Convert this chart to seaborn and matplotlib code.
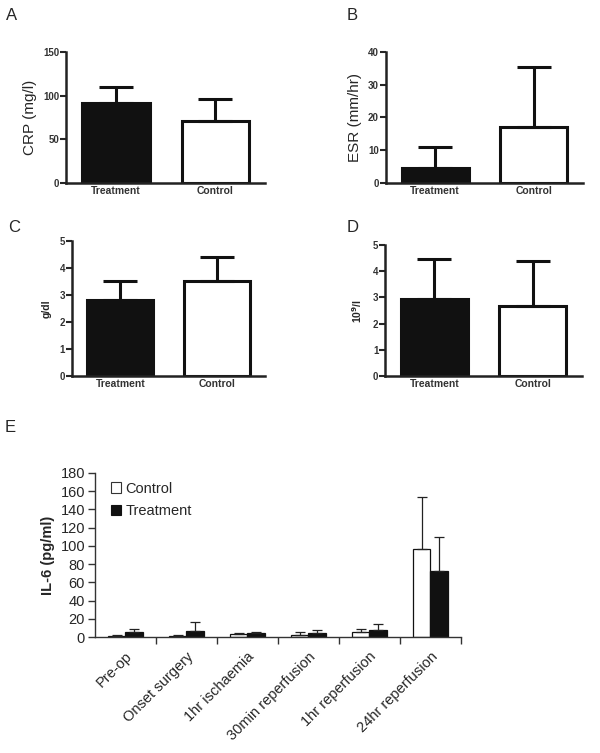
import numpy as np
import pandas as pd
import matplotlib
matplotlib.use("Agg")
import matplotlib.pyplot as plt
from matplotlib.patches import Patch
import seaborn as sns

# Panels A-D: Treatment vs Control, mean and SD (upper bar only)
groups = ["Treatment", "Control"]
crp_mean = [91, 71]
crp_sd = [19, 25]
esr_mean = [4.5, 17]
esr_sd = [6.5, 18.5]
alb_mean = [2.8, 3.52]
alb_sd = [0.72, 0.9]
wcc_mean = [2.92, 2.68]
wcc_sd = [1.55, 1.7]

# Panel E: IL-6 time course
timepoints = ["Pre-op", "Onset surgery", "1hr ischaemia",
              "30min reperfusion", "1hr reperfusion", "24hr reperfusion"]
il6_control = [1.5, 1.5, 3, 2.5, 5, 97]
il6_control_sd = [1, 1, 1, 2.5, 4, 57]
il6_treatment = [5.5, 7, 4, 4, 8, 72]
il6_treatment_sd = [3.5, 9.5, 1, 4, 6, 38]

sns.set_style("ticks")
plt.rcParams["font.family"] = ["Liberation Sans", "DejaVu Sans"]
plt.rcParams["axes.linewidth"] = 1.8
plt.rcParams["axes.edgecolor"] = "#222222"

fig = plt.figure(figsize=(6, 7.53), dpi=100)


# Small two-bar panel with upward SD error bars
def two_bar_panel(rect, means, sds, ymax, ystep, ylabel, ylabel_kw):
    ax = fig.add_axes(rect)
    df = pd.DataFrame({"group": groups, "value": means})
    sns.barplot(data=df, x="group", y="value", hue="group",
                palette={"Treatment": "#111111", "Control": "white"},
                edgecolor="#111111", linewidth=2.2, width=0.68,
                errorbar=None, legend=False, ax=ax)
    xs = [p.get_x() + p.get_width() / 2 for p in ax.patches]
    hs = [p.get_height() for p in ax.patches]
    ax.errorbar(xs, hs, yerr=[np.zeros(len(sds)), sds], fmt="none",
                ecolor="#111111", elinewidth=2.2, capsize=12, capthick=2.2)
    ax.set_xlim(-0.5, 1.5)
    ax.set_ylim(0, ymax)
    ax.set_yticks(np.arange(0, ymax + ystep / 2, ystep))
    ax.tick_params(axis="y", length=4, width=1.5, labelsize=7, pad=1,
                   labelcolor="#333333")
    ax.tick_params(axis="x", length=0, labelsize=7.5, pad=2,
                   labelcolor="#333333")
    for lab in ax.get_xticklabels() + ax.get_yticklabels():
        lab.set_fontweight("bold")
    ax.set_xlabel("")
    ax.set_ylabel(ylabel, **ylabel_kw)
    sns.despine(ax=ax)
    return ax


two_bar_panel([0.11, 0.757, 0.332, 0.174], crp_mean, crp_sd, 150, 50,
              "CRP (mg/l)", dict(fontsize=11, labelpad=4))
two_bar_panel([0.643, 0.757, 0.329, 0.174], esr_mean, esr_sd, 40, 10,
              "ESR (mm/hr)", dict(fontsize=11, labelpad=4))
two_bar_panel([0.12, 0.5007, 0.322, 0.179], alb_mean, alb_sd, 5, 1,
              "g/dl", dict(fontsize=7.5, fontweight="bold", labelpad=6))
two_bar_panel([0.642, 0.5007, 0.328, 0.174], wcc_mean, wcc_sd, 5, 1,
              r"10$^{\mathbf{9}}$/l", dict(fontsize=7.5, fontweight="bold",
                                          labelpad=6))

# Panel E
plt.rcParams["axes.linewidth"] = 1.0
axE = fig.add_axes([0.158, 0.154, 0.61, 0.218])
rows = []
for i, t in enumerate(timepoints):
    rows.append({"time": t, "group": "Control", "value": il6_control[i]})
    rows.append({"time": t, "group": "Treatment", "value": il6_treatment[i]})
dfE = pd.DataFrame(rows)
sns.barplot(data=dfE, x="time", y="value", hue="group",
            hue_order=["Control", "Treatment"],
            palette={"Control": "white", "Treatment": "#111111"},
            edgecolor="#111111", linewidth=0.9, width=0.57,
            errorbar=None, legend=False, ax=axE)
for cont, sds in zip(axE.containers, [il6_control_sd, il6_treatment_sd]):
    xs = [p.get_x() + p.get_width() / 2 for p in cont]
    hs = [p.get_height() for p in cont]
    axE.errorbar(xs, hs, yerr=[np.zeros(len(sds)), sds], fmt="none",
                 ecolor="#222222", elinewidth=0.9, capsize=3.5, capthick=0.9)
for s in ["left", "bottom"]:
    axE.spines[s].set_color("#333333")
axE.set_xlim(-0.5, 5.5)
axE.set_ylim(0, 180)
axE.set_yticks(np.arange(0, 181, 20))
axE.set_xticks(np.arange(0.5, 5.6, 1), minor=True)
axE.tick_params(axis="x", which="major", length=0, pad=9)
axE.tick_params(axis="x", which="minor", length=5, width=1, color="#333333")
axE.tick_params(axis="y", length=5, width=1, labelsize=10.5, pad=2,
                color="#333333")
axE.set_xticks(range(len(timepoints)))
axE.set_xticklabels(timepoints, rotation=45, ha="right",
                    rotation_mode="anchor", fontsize=10.5)
axE.set_xlabel("")
axE.set_ylabel("IL-6 (pg/ml)", fontsize=10.5, fontweight="bold", labelpad=4)
sns.despine(ax=axE)
handles = [Patch(facecolor="white", edgecolor="#333333", linewidth=0.8),
           Patch(facecolor="#111111", edgecolor="#111111", linewidth=0.8)]
axE.legend(handles, ["Control", "Treatment"], loc="upper left",
           bbox_to_anchor=(0.02, 1.0), frameon=False, fontsize=10.5,
           handlelength=0.7, handleheight=0.7, handletextpad=0.3,
           labelspacing=0.6, borderaxespad=0.2)

# Panel letters
for letter, x, y in [("A", 0.01, 0.99), ("B", 0.578, 0.99),
                     ("C", 0.013, 0.708), ("D", 0.578, 0.708),
                     ("E", 0.008, 0.442)]:
    fig.text(x, y, letter, fontsize=12, va="top", ha="left")

fig.savefig("out.png", dpi=100)
